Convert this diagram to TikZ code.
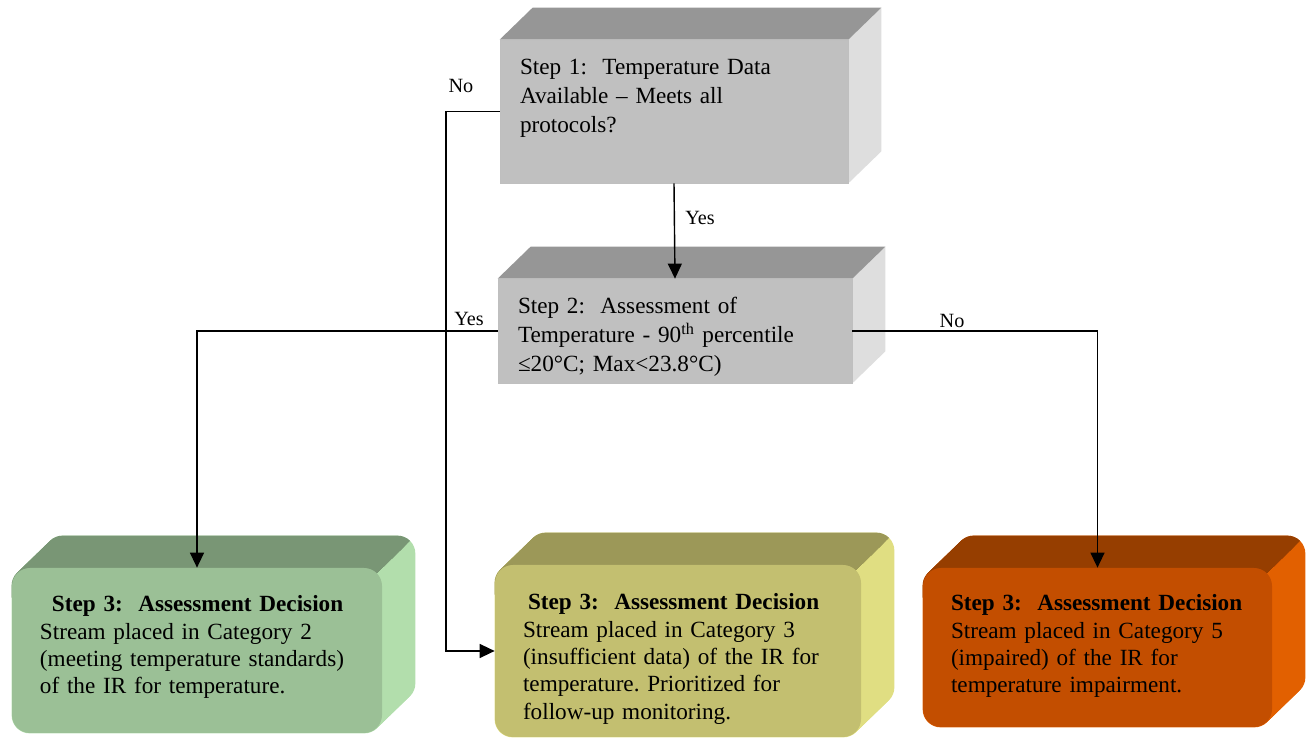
\documentclass[tikz,border=0pt]{standalone}
\usepackage{fontspec}
\setmainfont{Liberation Serif}
\usetikzlibrary{positioning}
\usetikzlibrary{arrows.meta}
\usetikzlibrary{backgrounds}

% face colours: front, top, side
\definecolor{greyfront}{RGB}{192,192,192}
\definecolor{greytop}{RGB}{150,150,150}
\definecolor{greyside}{RGB}{222,222,222}
\definecolor{greenfront}{RGB}{155,192,150}
\definecolor{greentop}{RGB}{121,150,117}
\definecolor{greenside}{RGB}{178,222,172}
\definecolor{olivefront}{RGB}{195,191,112}
\definecolor{olivetop}{RGB}{156,152,88}
\definecolor{oliveside}{RGB}{224,222,130}
\definecolor{rustfront}{RGB}{195,78,0}
\definecolor{rusttop}{RGB}{150,62,0}
\definecolor{rustside}{RGB}{226,96,0}

\tikzset{
  stepbox/.style={rectangle, draw=black!25, line width=0.4pt, fill=greyfront, inner sep=0pt},
  decision/.style={rectangle, rounded corners=0.36cm, inner sep=0pt},
  steptext/.style={anchor=base west, align=left, text width=6.6cm, inner sep=0pt,
    font=\fontsize{13.2}{16.4}\selectfont},
  dectext/.style={anchor=base west, align=left, text width=6.8cm, inner sep=0pt,
    font=\fontsize{13.2}{15.6}\selectfont},
  answer/.style={inner sep=0pt, font=\fontsize{11.5}{13}\selectfont},
  flow/.style={line width=0.8pt, -{Triangle[width=0.28cm, length=0.3cm]}}
}

% top and side faces behind a square box
\newcommand{\boxdepth}[3]{% node, top colour, side colour
  \begin{pgfonlayer}{background}
    \fill[#3] (#1.north east) -- ([shift={(0.66,0.64)}]#1.north east)
      -- ([shift={(0.66,0.64)}]#1.south east) -- (#1.south east) -- cycle;
    \fill[#2] (#1.north west) -- ([shift={(0.66,0.64)}]#1.north west)
      -- ([shift={(0.66,0.64)}]#1.north east) -- (#1.north east) -- cycle;
  \end{pgfonlayer}}

% same for a rounded box: sweep the front face backwards
\newcommand{\roundeddepth}[3]{% node, top colour, side colour
  \begin{pgfonlayer}{background}
    \foreach \t in {0,...,20}
      \fill[#3, rounded corners=0.36cm] ([shift={(0.033*\t,0.032*\t)}]#1.south west)
        rectangle ([shift={(0.033*\t,0.032*\t)}]#1.north east);
    \begin{scope}
      \clip ([shift={(-1,-0.6)}]#1.north west) -- ([shift={(-1,2)}]#1.north west)
        -- ([shift={(1.32,1.28)}]#1.north east) -- ([shift={(-0.62,-0.6)}]#1.north east) -- cycle;
      \foreach \t in {0,...,20}
        \fill[#2, rounded corners=0.36cm] ([shift={(0.033*\t,0.032*\t)}]#1.south west)
          rectangle ([shift={(0.033*\t,0.032*\t)}]#1.north east);
    \end{scope}
  \end{pgfonlayer}}

\begin{document}
\begin{tikzpicture}
  \useasboundingbox (0,0) rectangle (26.24,14.76);

  % question boxes
  \node[stepbox, minimum width=6.96cm, minimum height=2.86cm] (s1) at (13.48,12.53) {};
  \node[stepbox, minimum width=7.08cm, minimum height=2.08cm] (s2) at (13.50,8.14) {};
  \boxdepth{s1}{greytop}{greyside}
  \boxdepth{s2}{greytop}{greyside}

  % decision boxes
  \node[decision, fill=greenfront, minimum width=7.40cm, minimum height=3.30cm] (c2) at (3.94,1.75) {};
  \node[decision, fill=olivefront, minimum width=7.32cm, minimum height=3.44cm] (c3) at (13.56,1.74) {};
  \node[decision, fill=rustfront, minimum width=6.98cm, minimum height=3.18cm] (c5) at (21.95,1.81) {};
  \roundeddepth{c2}{greentop}{greenside}
  \roundeddepth{c3}{olivetop}{oliveside}
  \roundeddepth{c5}{rusttop}{rustside}

  % texts
  \node[steptext] (s1text) at ([shift={(0.40,-0.70)}]s1.north west)
    {Step 1:\ \ Temperature Data\\Available -- Meets all\\protocols?};
  \node[steptext] (s2text) at ([shift={(0.40,-0.70)}]s2.north west)
    {Step 2:\ \ Assessment of\\Temperature - 90\textsuperscript{th} percentile\\≤20°C; Max<23.8°C)};
  \node[dectext] (c2text) at ([shift={(0.56,-0.88)}]c2.north west)
    {\hspace*{0.24cm}\textbf{Step 3:\ \ Assessment Decision}\\Stream placed in Category 2\\(meeting temperature standards)\\of the IR for temperature.};
  \node[dectext] (c3text) at ([shift={(0.56,-0.90)}]c3.north west)
    {\hspace*{0.1cm}\textbf{Step 3:\ \ Assessment Decision}\\Stream placed in Category 3\\(insufficient data) of the IR for\\temperature.\ Prioritized for\\follow-up monitoring.};
  \node[dectext] (c5text) at ([shift={(0.56,-0.86)}]c5.north west)
    {\textbf{Step 3:\ \ Assessment Decision}\\Stream placed in Category 5\\(impaired) of the IR for\\temperature impairment.};

  % connectors
  \coordinate (nobus) at (8.92,0);
  \draw[flow] (s1.south) -- (s2.north);
  \draw[flow] (s2.west) -| (c2.north);
  \draw[flow] (s2.east) -| (c5.north);
  \draw[flow] (s1.west) -| (nobus |- c3.west) -- (c3.west);

  % answers
  \node[answer] (no1) at (9.22,13.04) {No};
  \node[answer] (yes1) at (14.00,10.40) {Yes};
  \node[answer] (yes2) at (9.38,8.38) {Yes};
  \node[answer] (no2) at (19.04,8.34) {No};
\end{tikzpicture}
\end{document}
